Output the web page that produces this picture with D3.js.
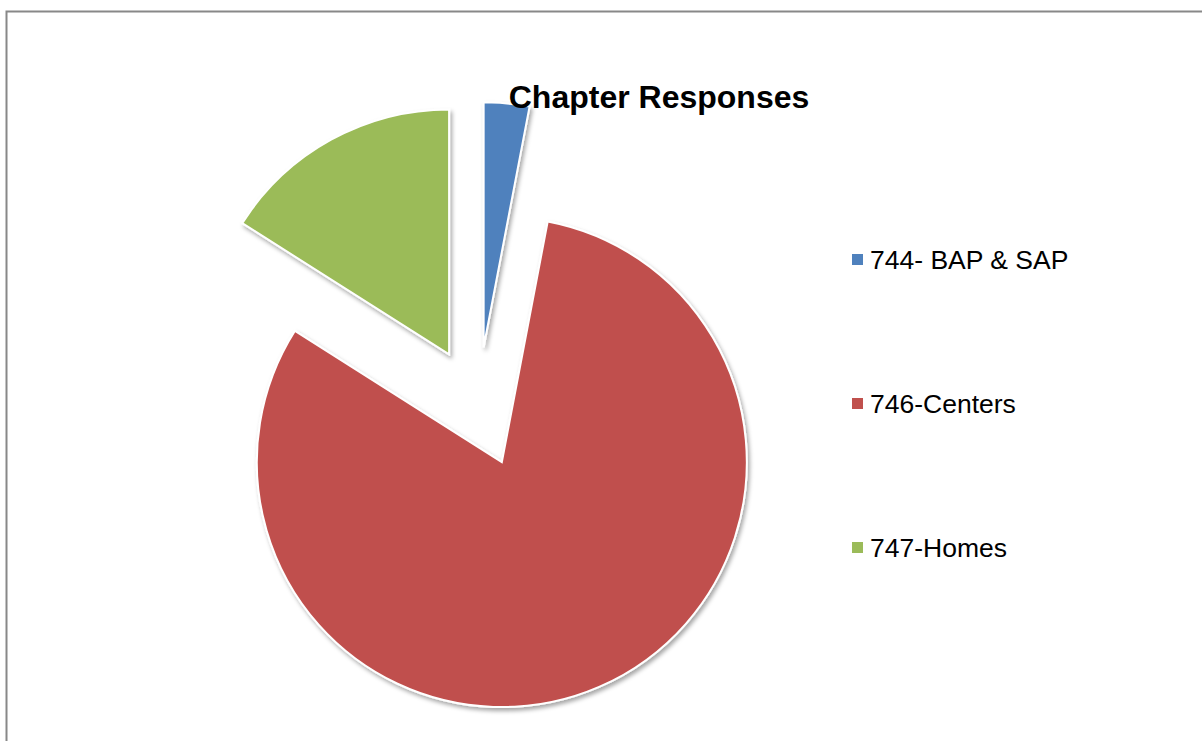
<!DOCTYPE html>
<html>
<head>
<meta charset="utf-8">
<script src="https://cdn.jsdelivr.net/npm/d3@7"></script>
<style>
  html, body { margin: 0; padding: 0; background: #fff; }
  svg { display: block; }
</style>
</head>
<body>
<svg id="chart" width="1202" height="741"></svg>
<script>
// Chapter response shares
const categories = ["744- BAP & SAP", "746-Centers", "747-Homes"];
const values = [3, 81, 16];
const colors = ["#4F81BD", "#C0504D", "#9BBB59"];
const title = "Chapter Responses";

const svg = d3.select("#chart");
const W = 1202, H = 741;

// outer frame (right and bottom edges run off the page)
svg.append("rect")
  .attr("x", 6.5).attr("y", 11.5)
  .attr("width", W + 20).attr("height", H + 20)
  .attr("fill", "#fff")
  .attr("stroke", "#888").attr("stroke-width", 2);

const defs = svg.append("defs");
const shadow = defs.append("filter").attr("id", "shadow")
  .attr("x", "-20%").attr("y", "-20%").attr("width", "140%").attr("height", "140%");
shadow.append("feDropShadow")
  .attr("dx", 2).attr("dy", 3).attr("stdDeviation", 2.2)
  .attr("flood-color", "#000").attr("flood-opacity", 0.35);

const cx = 478, cy = 407, radius = 245, explode = 60;

const pie = d3.pie().sort(null).value(d => d).startAngle(0).endAngle(2 * Math.PI);
const arc = d3.arc().innerRadius(0).outerRadius(radius);
const color = d3.scaleOrdinal().domain(categories).range(colors);

const arcs = pie(values);

svg.append("g")
  .attr("transform", `translate(${cx},${cy})`)
  .selectAll("path")
  .data(arcs)
  .join("path")
  .attr("d", arc)
  .attr("transform", d => {
    const mid = (d.startAngle + d.endAngle) / 2;
    return `translate(${explode * Math.sin(mid)},${-explode * Math.cos(mid)})`;
  })
  .attr("fill", (d, i) => color(categories[i]))
  .attr("stroke", "#fff")
  .attr("stroke-width", 2)
  .attr("stroke-linejoin", "miter")
  .attr("filter", "url(#shadow)");

// title
svg.append("text")
  .attr("x", 659).attr("y", 108)
  .attr("text-anchor", "middle")
  .attr("font-family", "Liberation Sans, Arial, sans-serif")
  .attr("font-weight", "bold")
  .attr("font-size", 32)
  .attr("fill", "#000")
  .text(title);

// legend
const legendY = d3.scalePoint().domain(categories).range([269, 557]);
const legend = svg.append("g")
  .selectAll("g")
  .data(categories)
  .join("g")
  .attr("transform", d => `translate(852,${legendY(d)})`);

legend.append("rect")
  .attr("x", 0).attr("y", -15)
  .attr("width", 11).attr("height", 11)
  .attr("fill", d => color(d));

legend.append("text")
  .attr("x", 18).attr("y", 0)
  .attr("font-family", "Liberation Sans, Arial, sans-serif")
  .attr("font-size", 26.5)
  .attr("fill", "#000")
  .text(d => d);
</script>
</body>
</html>
